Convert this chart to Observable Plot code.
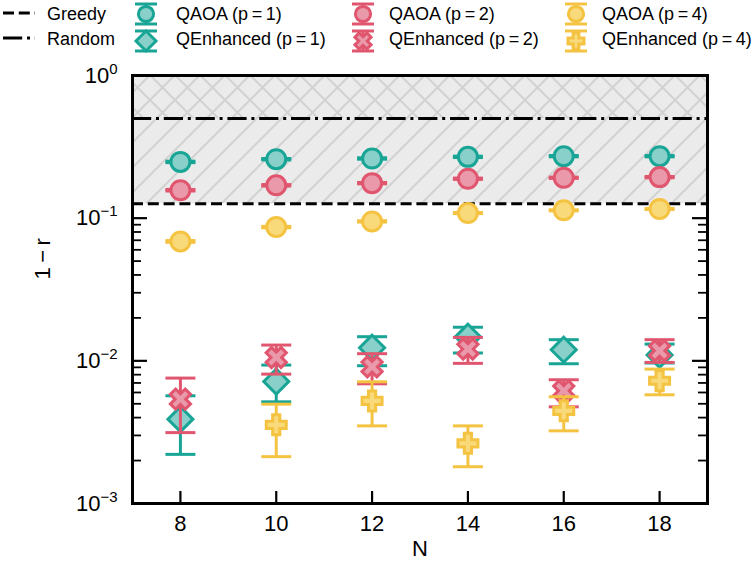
<!DOCTYPE html>
<html><head><meta charset="utf-8">
<script src="https://cdn.jsdelivr.net/npm/d3@7"></script>
<script src="https://cdn.jsdelivr.net/npm/@observablehq/plot@0.6"></script>
<style>
body{margin:0;background:#fff;}
#wrap{position:relative;width:754px;height:573px;font-family:"Liberation Sans",Arial,Helvetica,sans-serif;}
#wrap svg{position:absolute;left:0;top:0;}
</style></head><body><div id="wrap"></div>
<script>
// ---- data ----
const N = [8, 10, 12, 14, 16, 18];
const xTicks = [8, 10, 12, 14, 16, 18];
const xDomain = [7, 19];
const yDomain = [1e-3, 1];
const yMajor = [1e-3, 1e-2, 1e-1, 1];
const baselineNames = ["Greedy", "Random"];
const baselineValues = [0.126, 0.5];

const qaoa1 = [0.248, 0.259, 0.262, 0.269, 0.272, 0.272];
const qaoa2 = [0.157, 0.170, 0.176, 0.189, 0.192, 0.194];
const qaoa4 = [0.0687, 0.0866, 0.0949, 0.1086, 0.1135, 0.116];
const qaoa1Err = [0.003, 0.003, 0.003, 0.003, 0.003, 0.003];
const qaoa2Err = [0.002, 0.002, 0.002, 0.002, 0.002, 0.002];
const qaoa4Err = [0.001, 0.001, 0.001, 0.001, 0.001, 0.001];

const qenh1 = [0.0039, 0.00716, 0.01236, 0.01476, 0.01197, 0.0110];
const qenh1Lo = [0.00221, 0.00516, 0.00924, 0.01135, 0.00954, 0.00966];
const qenh1Hi = [0.00569, 0.00934, 0.01476, 0.0172, 0.01407, 0.0131];
const qenh2 = [0.00539, 0.01056, 0.00908, 0.0121, 0.00616, 0.01178];
const qenh2Lo = [0.00314, 0.00807, 0.0069, 0.0096, 0.00476, 0.00975];
const qenh2Hi = [0.00757, 0.0129, 0.01122, 0.0146, 0.00737, 0.01407];
const qenh4 = [null, 0.00356, 0.00524, 0.00264, 0.00446, 0.00725];
const qenh4Lo = [null, 0.00213, 0.0035, 0.00181, 0.00323, 0.00578];
const qenh4Hi = [null, 0.00497, 0.00713, 0.0035, 0.0056, 0.00875];

const seriesNames = ["QAOA (p\u2009=\u20091)", "QEnhanced (p\u2009=\u20091)", "QAOA (p\u2009=\u20092)", "QEnhanced (p\u2009=\u20092)", "QAOA (p\u2009=\u20094)", "QEnhanced (p\u2009=\u20094)"];
const strokeColors = ["#19a596", "#19a596", "#e0566f", "#e0566f", "#f5c342", "#f5c342"];
const fillColors = ["#88d0c9", "#88d0c9", "#e999a9", "#e999a9", "#f9da7a", "#f9da7a"];

// ---- symbols ----
const rad = size => Math.sqrt(size / Math.PI);
const hline = {draw(c, size) { const s = rad(size); c.moveTo(-s, 0); c.lineTo(s, 0); }};
const diamondSq = {draw(c, size) { const s = rad(size); c.moveTo(0, -s); c.lineTo(s, 0); c.lineTo(0, s); c.lineTo(-s, 0); c.closePath(); }};
function plusPts(e) { const a = e * 0.36; return [[-a,-e],[a,-e],[a,-a],[e,-a],[e,a],[a,a],[a,e],[-a,e],[-a,a],[-e,a],[-e,-a],[-a,-a]]; }
const plusFilled = {draw(c, size) { const p = plusPts(rad(size)); c.moveTo(...p[0]); p.slice(1).forEach(q => c.lineTo(...q)); c.closePath(); }};
const xFilled = {draw(c, size) { const k = Math.SQRT1_2; const p = plusPts(rad(size)).map(([x, y]) => [k*(x - y), k*(x + y)]); c.moveTo(...p[0]); p.slice(1).forEach(q => c.lineTo(...q)); c.closePath(); }};
const symbols = ["circle", diamondSq, "circle", xFilled, "circle", plusFilled];
const symbolObjs = [d3.symbolCircle, diamondSq, d3.symbolCircle, xFilled, d3.symbolCircle, plusFilled];
const markerR = [9.5, 12.5, 9.5, 10.5, 9.5, 10];

const seriesVals = [qaoa1, qenh1, qaoa2, qenh2, qaoa4, qenh4];
const seriesLo = [qaoa1.map((v,i)=>v-qaoa1Err[i]), qenh1Lo, qaoa2.map((v,i)=>v-qaoa2Err[i]), qenh2Lo, qaoa4.map((v,i)=>v-qaoa4Err[i]), qenh4Lo];
const seriesHi = [qaoa1.map((v,i)=>v+qaoa1Err[i]), qenh1Hi, qaoa2.map((v,i)=>v+qaoa2Err[i]), qenh2Hi, qaoa4.map((v,i)=>v+qaoa4Err[i]), qenh4Hi];

const W = 754, H = 573, mL = 132, mR = 47, mT = 75, mB = 70;
const frameW = W - mL - mR, frameH = H - mT - mB;

const yMinor = [];
for (const m of yMajor.slice(0, 3)) for (let k = 2; k <= 9; k++) yMinor.push(m * k);

const seriesMarks = [];
seriesVals.forEach((vals, s) => {
  const rows = N.map((n, i) => ({n, v: vals[i], lo: seriesLo[s][i], hi: seriesHi[s][i]})).filter(d => d.v != null);
  seriesMarks.push(
    Plot.ruleX(rows, {x: "n", y1: "lo", y2: "hi", stroke: strokeColors[s], strokeWidth: 3}),
    Plot.dot(rows, {x: "n", y: "lo", symbol: hline, r: 15, stroke: strokeColors[s], fill: "none", strokeWidth: 3}),
    Plot.dot(rows, {x: "n", y: "hi", symbol: hline, r: 15, stroke: strokeColors[s], fill: "none", strokeWidth: 3}),
    Plot.dot(rows, {x: "n", y: "v", symbol: symbols[s], r: markerR[s], stroke: strokeColors[s], fill: fillColors[s], fillOpacity: 1, strokeWidth: 3})
  );
});

const shadeAll = [{x1: xDomain[0], x2: xDomain[1], y1: baselineValues[0], y2: yDomain[1]}];
const shadeTop = [{x1: xDomain[0], x2: xDomain[1], y1: baselineValues[1], y2: yDomain[1]}];

const chart = Plot.plot({
  width: W, height: H,
  marginLeft: mL, marginRight: mR, marginTop: mT, marginBottom: mB,
  style: {fontFamily: '"Liberation Sans", Arial, sans-serif', color: "#000", background: "transparent"},
  x: {domain: xDomain},
  y: {type: "log", domain: yDomain},
  marks: [
    Plot.tickY(yMajor, {y: d => d, insetRight: frameW - 15, stroke: "#000", strokeWidth: 2.2}),
    Plot.tickY(yMajor, {y: d => d, insetLeft: frameW - 15, stroke: "#000", strokeWidth: 2.2}),
    Plot.tickY(yMinor, {y: d => d, insetRight: frameW - 9, stroke: "#000", strokeWidth: 1.8}),
    Plot.tickY(yMinor, {y: d => d, insetLeft: frameW - 9, stroke: "#000", strokeWidth: 1.8}),
    Plot.tickX(xTicks, {x: d => d, insetTop: frameH - 12, stroke: "#000", strokeWidth: 2.2}),
    Plot.rect(shadeAll, {x1: "x1", x2: "x2", y1: "y1", y2: "y2", fill: "url(#hatchA)"}),
    Plot.rect(shadeTop, {x1: "x1", x2: "x2", y1: "y1", y2: "y2", fill: "url(#hatchB)"}),
    Plot.ruleY([baselineValues[0]], {stroke: "#000", strokeWidth: 3, strokeDasharray: "11,4.8"}),
    Plot.ruleY([baselineValues[1]], {stroke: "#000", strokeWidth: 3, strokeDasharray: "19.2,4.8,3,4.8"}),
    ...seriesMarks,
    Plot.axisX({ticks: xTicks, tickSize: 0, tickPadding: 12, fontSize: 22, label: null, tickFormat: d => String(d)}),
    Plot.axisY({ticks: yMajor, tickSize: 0, tickPadding: 15, fontSize: 22, label: null, tickFormat: d => `10^${Math.round(Math.log10(d))}`}),
    Plot.text(["N"], {frameAnchor: "bottom", dy: 52, fontSize: 22}),
    Plot.text(["1\u2009\u2212\u2009r"], {frameAnchor: "left", dx: -90, dy: -10, rotate: -90, fontSize: 22}),
    Plot.frame({stroke: "#000", strokeWidth: 3})
  ]
});

// hatch patterns
const svg = d3.select(chart);
const defs = svg.insert("defs", ":first-child");
const P = 25;
const pa = defs.append("pattern").attr("id", "hatchA").attr("patternUnits", "userSpaceOnUse").attr("width", P).attr("height", P);
pa.append("rect").attr("width", P).attr("height", P).attr("fill", "#ebebeb");
pa.append("path").attr("d", `M0,${P}L${P},0M-5,5L5,-5M${P-5},${P+5}L${P+5},${P-5}`).attr("stroke", "#d2d2d2").attr("stroke-width", 2);
const pb = defs.append("pattern").attr("id", "hatchB").attr("patternUnits", "userSpaceOnUse").attr("width", P).attr("height", P);
pb.append("path").attr("d", `M0,0L${P},${P}M-5,${P-5}L5,${P+5}M${P-5},-5L${P+5},5`).attr("stroke", "#d2d2d2").attr("stroke-width", 2);

// superscript tick labels
svg.selectAll('g[aria-label="y-axis tick label"] text').each(function() {
  const t = this.textContent; const m = t.match(/^10\^(-?\d+)$/);
  if (!m) return;
  this.textContent = "";
  const el = d3.select(this);
  el.append("tspan").text("10");
  el.append("tspan").attr("dy", "-9").attr("font-size", 15).text(m[1].replace("-", "\u2212"));
});

const wrap = document.getElementById("wrap");
wrap.appendChild(chart);

// legend
const lg = d3.select(wrap).append("svg").attr("width", W).attr("height", 60)
  .style("font-family", '"Liberation Sans", Arial, sans-serif').style("font-size", "18px");
const dashes = ["11,4.8", "19.2,4.8,3,4.8"];
const rowY = [14, 39];
baselineNames.forEach((name, i) => {
  lg.append("line").attr("x1", 3).attr("x2", 35).attr("y1", rowY[i] - 1).attr("y2", rowY[i] - 1)
    .attr("stroke", "#000").attr("stroke-width", 3).attr("stroke-dasharray", dashes[i]);
  lg.append("text").attr("x", 47).attr("y", rowY[i]).attr("dominant-baseline", "central").text(name);
});
const colX = [146, 363, 576], textX = [176, 389, 602];
seriesNames.forEach((name, s) => {
  const col = Math.floor(s / 2), row = s % 2;
  const cx = colX[col], cy = rowY[row] + (row ? 2 : 0);
  const g = lg.append("g").attr("transform", `translate(${cx},${cy})`);
  g.append("line").attr("y1", -10).attr("y2", 10).attr("stroke", strokeColors[s]).attr("stroke-width", 3);
  [-10, 10].forEach(dy => g.append("line").attr("x1", -11).attr("x2", 11).attr("y1", dy).attr("y2", dy).attr("stroke", strokeColors[s]).attr("stroke-width", 3));
  const r = markerR[s] * 0.8;
  g.append("path").attr("d", d3.symbol(symbolObjs[s], Math.PI * r * r)()).attr("fill", fillColors[s]).attr("stroke", strokeColors[s]).attr("stroke-width", 3);
  lg.append("text").attr("x", textX[col]).attr("y", rowY[row]).attr("dominant-baseline", "central").text(name);
});
</script>
</body></html>
